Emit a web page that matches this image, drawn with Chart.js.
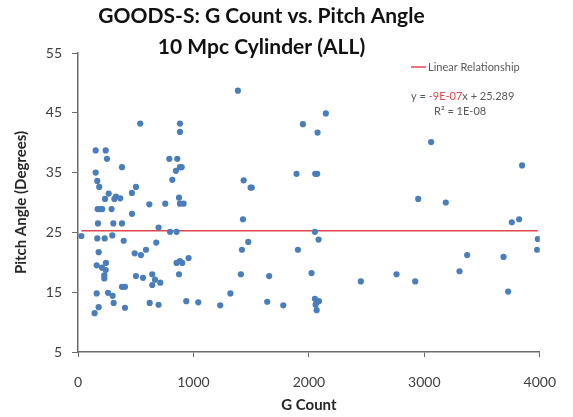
<!DOCTYPE html>
<html lang="en">
<head>
<meta charset="UTF-8">
<title>GOODS-S: G Count vs. Pitch Angle</title>
<script src="https://cdn.jsdelivr.net/npm/chart.js"></script>
<style>
  body { margin: 0; background: #fff; }
</style>
</head>
<body>
<canvas id="myChart" width="573" height="417"></canvas>
<script>
// values
const gCount = [
  539, 883, 883, 153, 240, 251, 381, 791, 860, 883, 898, 848, 153, 167, 817, 184, 502, 467, 266, 329,
  366, 234, 875, 315, 618, 756, 883, 915, 170, 193, 210, 291, 468, 173, 306, 381, 698, 797, 854, 29,
  167, 231, 297, 396, 678, 179, 491, 545, 589, 854, 883, 903, 958, 162, 208, 240, 242, 228, 228, 502,
  563, 643, 667, 713, 643, 875, 381, 407, 162, 260, 300, 1320, 309, 179, 407, 621, 698, 938, 1042, 1232,
  144, 1385, 2147, 1948, 2075, 1435, 1495, 1505, 1893, 2055, 2072, 1429, 1475, 1420, 2052, 2084, 1905, 1411, 1656, 2023,
  2450, 1639, 1778, 2052, 2087, 2067, 2058, 2067, 3059, 3847, 2947, 3186, 3758, 3821, 3983, 3977, 3371, 3305, 3686, 2759,
  2921, 3726
];
const pitchAngle = [
  43.2, 43.2, 41.8, 38.7, 38.7, 37.3, 35.9, 37.3, 37.3, 35.9, 35.9, 35.3, 35.0, 33.6, 33.8, 32.6, 32.6, 31.6, 31.5, 31.0,
  30.7, 30.6, 30.8, 30.6, 29.7, 29.8, 29.8, 29.8, 28.9, 28.9, 28.9, 28.9, 28.1, 26.5, 26.5, 26.5, 25.8, 25.1, 25.1, 24.4,
  24.0, 24.0, 24.5, 23.6, 23.3, 21.7, 21.5, 21.2, 22.1, 19.9, 20.2, 19.9, 20.7, 19.5, 19.1, 18.7, 19.9, 17.8, 17.3, 17.7,
  17.4, 18.0, 17.1, 16.6, 16.2, 18.0, 15.9, 15.9, 14.8, 14.9, 14.4, 14.8, 13.2, 12.5, 12.4, 13.2, 12.9, 13.5, 13.3, 12.8,
  11.5, 48.7, 44.9, 43.1, 41.7, 33.7, 32.5, 32.5, 34.8, 34.8, 34.8, 27.2, 23.4, 22.1, 25.1, 23.8, 22.1, 18.0, 17.7, 18.2,
  16.8, 13.4, 12.8, 13.9, 13.5, 13.3, 12.9, 12.0, 40.1, 36.2, 30.6, 30.0, 26.7, 27.2, 23.9, 22.1, 21.2, 18.5, 20.9, 18.0,
  16.8, 15.1
];
const slope = -9e-7;
const intercept = 25.289;
const xTicks = [0, 1000, 2000, 3000, 4000];
const yTicks = [5, 15, 25, 35, 45, 55];

const points = gCount.map((x, i) => ({ x: x, y: pitchAngle[i] }));
const xMin = Math.min(...gCount), xMax = Math.max(...gCount);
const fitLine = [xMin, xMax].map(x => ({ x: x, y: slope * x + intercept }));

const FONT = 'Lato, "Open Sans", sans-serif';

// Excel centred the title a bit left of the canvas middle
const shiftTitle = {
  id: 'shiftTitle',
  afterLayout(chart) {
    chart.titleBlock.left -= 10;
    chart.titleBlock.right -= 10;
  }
};

// legend + trendline equation drawn inside the plot, like Excel does
const annotations = {
  id: 'annotations',
  afterDraw(chart) {
    const ctx = chart.ctx;
    ctx.save();
    ctx.font = '11px ' + FONT;
    ctx.textBaseline = 'middle';
    // legend entry
    ctx.strokeStyle = '#E0474C';
    ctx.lineWidth = 1.5;
    ctx.beginPath();
    ctx.moveTo(411, 67);
    ctx.lineTo(426, 67);
    ctx.stroke();
    ctx.fillStyle = '#595959';
    ctx.fillText('Linear Relationship', 428, 67);

    // equation, with the slope in red
    const parts = [['y = ', '#595959'], ['-9E-07', '#E0474C'], ['x + 25.289', '#595959']];
    let x = 411;
    parts.forEach(([t, c]) => {
      ctx.fillStyle = c;
      ctx.fillText(t, x, 96);
      x += ctx.measureText(t).width;
    });
    ctx.fillStyle = '#595959';
    ctx.fillText('R\u00B2 = 1E-08', 434, 111);
    ctx.restore();
  }
};

new Chart(document.getElementById('myChart'), {
  type: 'scatter',
  data: {
    datasets: [{
      label: 'G Count vs. Pitch Angle',
      data: points,
      backgroundColor: '#4A7EBB',
      borderWidth: 0,
      pointRadius: 3.1,
      order: 0
    }, {
      type: 'line',
      label: 'Linear Relationship',
      data: fitLine,
      borderColor: '#E0474C',
      borderWidth: 1.5,
      pointRadius: 0,
      fill: false,
      order: 1
    }]
  },
  options: {
    responsive: false,
    animation: false,
    layout: { padding: { left: 0, right: 30, top: 0, bottom: 0 } },
    plugins: {
      legend: { display: false },
      tooltip: { enabled: false },
      title: {
        display: true,
        text: ['GOODS-S: G Count vs. Pitch Angle', '10 Mpc Cylinder (ALL)'],
        color: '#111',
        font: { family: FONT, size: 21, weight: 'bold', lineHeight: 1.5 },
        padding: { top: 0, bottom: -10 }
      }
    },
    scales: {
      x: {
        type: 'linear',
        min: 0,
        max: 4000,
        afterBuildTicks: s => { s.ticks = xTicks.map(v => ({ value: v })); },
        afterFit: s => { s.height = 65; },
        grid: { drawOnChartArea: false, tickLength: 5, color: '#6b6b6b' },
        border: { color: '#6b6b6b', width: 1.5 },
        ticks: {
          color: '#404040',
          font: { family: FONT, size: 14 },
          padding: 17,
          callback: v => String(v)
        },
        title: {
          display: true,
          text: 'G Count',
          color: '#262626',
          font: { family: FONT, size: 15, weight: 'bold' },
          padding: { top: 0, bottom: 3 }
        }
      },
      y: {
        min: 5,
        max: 55,
        afterBuildTicks: s => { s.ticks = yTicks.map(v => ({ value: v })); },
        afterFit: s => { s.width = 78; },
        grid: { drawOnChartArea: false, tickLength: 6, color: '#6b6b6b' },
        border: { color: '#6b6b6b', width: 1.5 },
        ticks: {
          color: '#404040',
          font: { family: FONT, size: 14 },
          padding: 10,
          callback: v => String(v)
        },
        title: {
          display: true,
          text: 'Pitch Angle (Degrees)',
          color: '#262626',
          font: { family: FONT, size: 15, weight: 'bold' },
          padding: { top: 12, bottom: 0 }
        }
      }
    }
  },
  plugins: [shiftTitle, annotations]
});
</script>
</body>
</html>
